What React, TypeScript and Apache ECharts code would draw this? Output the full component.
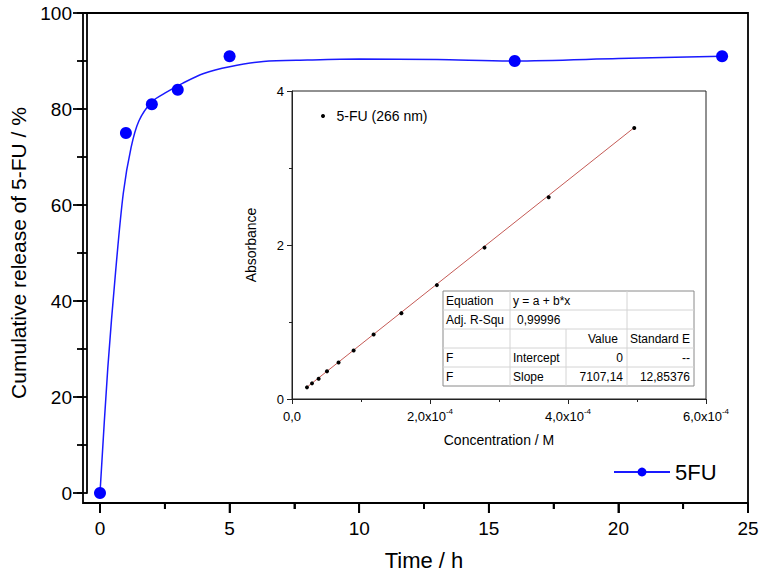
import React, { useEffect, useRef } from "react";
import * as echarts from "echarts";

// ---- Main chart data ----
const timeH = [0, 1, 2, 3, 5, 16, 24];
const release = [0, 75, 81, 84, 91, 90, 91];
// fitted curve
const curveT = [0, 0.3, 0.6, 0.9, 1.2, 1.5, 2.0, 2.5, 3.2, 4.0, 5.0, 6.3, 8, 10, 13, 16, 20, 24];
const curveY = [0, 26, 46, 62.5, 72, 77.5, 81.5, 83.3, 85.4, 87.4, 88.8, 89.9, 90.2, 90.4, 90.3, 90.0, 90.5, 91.0];
const xMajorTicks = [0, 5, 10, 15, 20, 25];
const xMinorTicks = [2.5, 7.5, 12.5, 17.5, 22.5];
const yMajorTicks = [0, 20, 40, 60, 80, 100];
const yMinorTicks = [10, 30, 50, 70, 90];

// ---- Inset (calibration) data ----
const conc = [0.217e-4, 0.29e-4, 0.386e-4, 0.507e-4, 0.675e-4, 0.893e-4, 1.183e-4, 1.585e-4, 2.1e-4, 2.79e-4, 3.72e-4, 4.96e-4];
const absorb = [0.151, 0.203, 0.264, 0.359, 0.473, 0.629, 0.837, 1.115, 1.479, 1.966, 2.62, 3.52];
const fitConc = [0.217e-4, 4.96e-4];
const fitAbs = [0.154, 3.525];

// ---- Table texts ----
const tableRows = [
  ["Equation", "y = a + b*x", "", ""],
  ["Adj. R-Squ", "0,99996", "", ""],
  ["", "", "Value", "Standard E"],
  ["F", "Intercept", "0", "--"],
  ["F", "Slope", "7107,14", "12,85376"],
];

const FONT = "Arial, 'Liberation Sans', sans-serif";
const FRAME = { x: 83, y: 13, width: 665, height: 490 };

function buildGraphics() {
  const els: any[] = [];
  // main plot frame
  els.push({
    type: "rect",
    shape: { ...FRAME },
    style: { fill: "none", stroke: "#000", lineWidth: 1.8 },
    z: 50,
  });
  const cols = [443, 510, 566, 627, 694];
  const rows = [291, 310, 329, 348, 367, 386];
  els.push({
    type: "rect",
    shape: { x: cols[0], y: rows[0], width: cols[4] - cols[0], height: rows[5] - rows[0] },
    style: { fill: "#fff", stroke: "#8a8a8a", lineWidth: 1 },
    z: 100,
  });
  for (let i = 1; i < 5; i++) {
    els.push({
      type: "line",
      shape: { x1: cols[0], y1: rows[i], x2: cols[4], y2: rows[i] },
      style: { stroke: "#d4d4d4", lineWidth: 1 },
      z: 101,
    });
  }
  els.push({ type: "line", shape: { x1: cols[1], y1: rows[0], x2: cols[1], y2: rows[5] }, style: { stroke: "#d4d4d4", lineWidth: 1 }, z: 101 });
  els.push({ type: "line", shape: { x1: cols[3], y1: rows[0], x2: cols[3], y2: rows[5] }, style: { stroke: "#d4d4d4", lineWidth: 1 }, z: 101 });
  els.push({ type: "line", shape: { x1: cols[2], y1: rows[2], x2: cols[2], y2: rows[5] }, style: { stroke: "#d4d4d4", lineWidth: 1 }, z: 101 });
  tableRows.forEach((r, ri) => {
    const cy = (rows[ri] + rows[ri + 1]) / 2;
    r.forEach((txt, ci) => {
      if (!txt) return;
      let x = cols[ci] + 3;
      let align = "left";
      if (ri >= 3 && ci >= 2) {
        x = cols[ci + 1] - 4;
        align = "right";
      }
      if (ri === 2 && ci === 2) x = cols[ci] + 22;
      if (ri === 1 && ci === 1) x = cols[ci] + 7;
      els.push({
        type: "text",
        x,
        y: cy,
        z: 102,
        style: { text: txt, fill: "#000", font: `12px ${FONT}`, align, verticalAlign: "middle" },
      });
    });
  });
  return els;
}

export default function App() {
  const ref = useRef<HTMLDivElement>(null);
  useEffect(() => {
    if (!ref.current) return;
    const chart = echarts.init(ref.current, null, { renderer: "svg" });
    const option: any = {
      animation: false,
      backgroundColor: "#fff",
      textStyle: { fontFamily: FONT },
      grid: [
        { left: 96, top: 13, width: 652, height: 480, show: false },
        { left: 292, top: 91, width: 414, height: 308, show: true, borderColor: "#222", borderWidth: 1, backgroundColor: "#fff" },
      ],
      legend: [
        {
          data: [{ name: "5FU" }],
          left: 608,
          top: 456,
          itemWidth: 56,
          itemHeight: 11,
          textStyle: { fontSize: 22, color: "#000", fontFamily: FONT },
          itemGap: 6,
        },
        {
          data: [{ name: "5-FU (266 nm)", icon: "circle" }],
          left: 316,
          top: 104,
          itemWidth: 5,
          itemHeight: 4,
          textStyle: { fontSize: 14, color: "#000", fontFamily: FONT, padding: [0, 0, 0, 6] },
        },
      ],
      xAxis: [
        {
          gridIndex: 0,
          type: "value",
          position: "bottom",
          offset: 10,
          min: 0,
          max: 25,
          interval: 5,
          axisLine: { show: true, onZero: false, lineStyle: { color: "#000", width: 1.8 } },
          axisTick: { show: true, inside: false, length: 10, lineStyle: { color: "#000", width: 1.8 } },
          minorTick: { show: true, splitNumber: 2, length: 6, lineStyle: { color: "#000", width: 1.8 } },
          axisLabel: { fontSize: 19, color: "#000", margin: 16, fontFamily: FONT },
          splitLine: { show: false },
          name: "Time / h",
          nameLocation: "middle",
          nameGap: 46,
          nameTextStyle: { fontSize: 22, color: "#000", fontFamily: FONT },
        },
        {
          gridIndex: 1,
          type: "value",
          min: 0,
          max: 6e-4,
          interval: 2e-4,
          axisLine: { show: true, onZero: false, lineStyle: { color: "#222", width: 1 } },
          axisTick: { show: true, length: 5, lineStyle: { color: "#222" } },
          minorTick: { show: true, splitNumber: 2, length: 3, lineStyle: { color: "#222" } },
          axisLabel: {
            color: "#000",
            margin: 8,
            formatter: (v: number) => {
              if (Math.abs(v) < 1e-12) return "{n|0,0}";
              return "{n|" + (v * 1e4).toFixed(1).replace(".", ",") + "x10}{s|-4}";
            },
            rich: {
              n: { fontSize: 13, color: "#000", fontFamily: FONT, lineHeight: 16, verticalAlign: "bottom" },
              s: { fontSize: 8, color: "#000", fontFamily: FONT, lineHeight: 16, verticalAlign: "top", padding: [0, 0, 6, 0] },
            },
          },
          splitLine: { show: false },
          name: "Concentration / M",
          nameLocation: "middle",
          nameGap: 34,
          nameTextStyle: { fontSize: 14, color: "#000", fontFamily: FONT },
        },
      ],
      yAxis: [
        {
          gridIndex: 0,
          type: "value",
          position: "left",
          offset: 13,
          min: 0,
          max: 100,
          interval: 20,
          axisLine: { show: true, onZero: false, lineStyle: { color: "#000", width: 1.8 } },
          axisTick: { show: true, inside: false, length: 10, lineStyle: { color: "#000", width: 1.8 } },
          minorTick: { show: true, splitNumber: 2, length: 6, lineStyle: { color: "#000", width: 1.8 } },
          axisLabel: { fontSize: 19, color: "#000", margin: 15, fontFamily: FONT },
          splitLine: { show: false },
          name: "Cumulative release of 5-FU / %",
          nameLocation: "middle",
          nameGap: 58,
          nameTextStyle: { fontSize: 21, color: "#000", fontFamily: FONT },
        },
        {
          gridIndex: 1,
          type: "value",
          min: 0,
          max: 4,
          interval: 2,
          axisLine: { show: true, onZero: false, lineStyle: { color: "#222", width: 1 } },
          axisTick: { show: true, length: 5, lineStyle: { color: "#222" } },
          minorTick: { show: true, splitNumber: 2, length: 3, lineStyle: { color: "#222" } },
          axisLabel: { fontSize: 13, color: "#000", margin: 8, fontFamily: FONT },
          splitLine: { show: false },
          name: "Absorbance",
          nameLocation: "middle",
          nameGap: 34,
          nameTextStyle: { fontSize: 14, color: "#000", fontFamily: FONT },
        },
      ],
      series: [
        {
          name: "5FU",
          type: "line",
          xAxisIndex: 0,
          yAxisIndex: 0,
          data: curveT.map((t, i) => [t, curveY[i]]),
          smooth: 0.3,
          clip: false,
          showSymbol: false,
          symbol: "circle",
          symbolSize: 11,
          itemStyle: { color: "#0000ff", opacity: 1 },
          lineStyle: { color: "#1a1aff", width: 1.5 },
          z: 3,
        },
        {
          name: "5FU-points",
          type: "scatter",
          xAxisIndex: 0,
          yAxisIndex: 0,
          data: timeH.map((t, i) => [t, release[i]]),
          symbol: "circle",
          symbolSize: 12,
          clip: false,
          itemStyle: { color: "#0000ff", opacity: 1 },
          z: 4,
        },
        {
          name: "5-FU (266 nm)",
          type: "scatter",
          xAxisIndex: 1,
          yAxisIndex: 1,
          data: conc.map((c, i) => [c, absorb[i]]),
          symbolSize: 4,
          itemStyle: { color: "#000", opacity: 1 },
          z: 6,
        },
        {
          name: "fit",
          type: "line",
          xAxisIndex: 1,
          yAxisIndex: 1,
          data: fitConc.map((c, i) => [c, fitAbs[i]]),
          showSymbol: false,
          lineStyle: { color: "#c45a55", width: 1 },
          z: 5,
        },
      ],
    };
    chart.setOption(option);

    // main-axis tick marks placed through the library's own scales
    const tickEls: any[] = [];
    const bottom = FRAME.y + FRAME.height;
    const left = FRAME.x;
    const addX = (v: number, len: number) => {
      const px = chart.convertToPixel({ xAxisIndex: 0 } as any, v) as any as number;
      tickEls.push({ type: "line", z: 60, shape: { x1: px, y1: bottom, x2: px, y2: bottom + len }, style: { stroke: "#000", lineWidth: 1.8 } });
    };
    const addY = (v: number, len: number) => {
      const py = chart.convertToPixel({ yAxisIndex: 0 } as any, v) as any as number;
      tickEls.push({ type: "line", z: 60, shape: { x1: left, y1: py, x2: left - len, y2: py }, style: { stroke: "#000", lineWidth: 1.8 } });
    };
    xMajorTicks.forEach((v) => addX(v, 10));
    xMinorTicks.forEach((v) => addX(v, 6));
    yMajorTicks.forEach((v) => addY(v, 10));
    yMinorTicks.forEach((v) => addY(v, 6));

    chart.setOption({ graphic: [...buildGraphics(), ...tickEls] });
    return () => chart.dispose();
  }, []);
  return (
    <div
      ref={ref}
      style={{ position: "fixed", left: 0, top: 0, width: 762, height: 576, background: "#fff" }}
    />
  );
}
